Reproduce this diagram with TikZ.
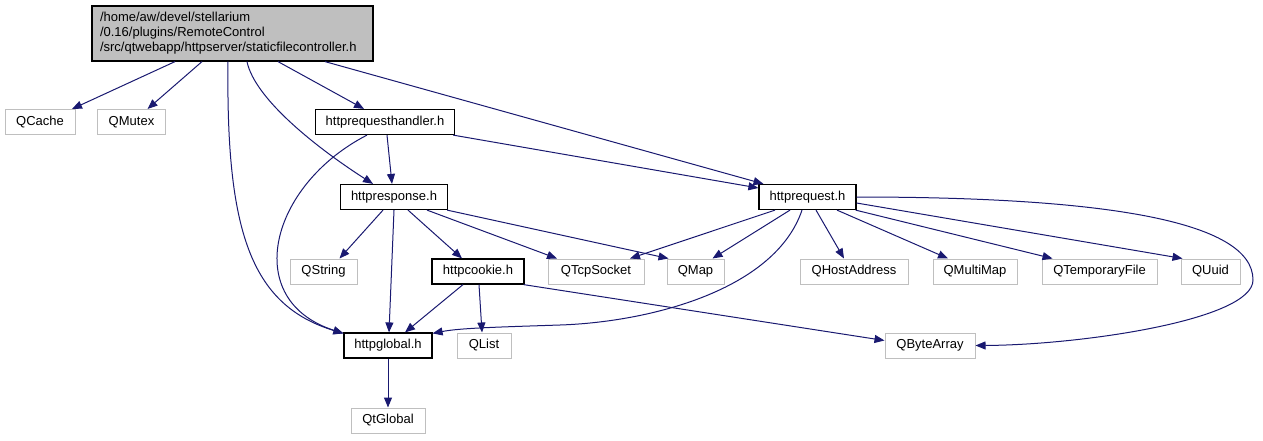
\documentclass[tikz,border=0pt]{standalone}
\usepackage{fontspec}
\setmainfont{Liberation Sans}
\usetikzlibrary{arrows.meta}
\definecolor{edgeblue}{HTML}{191970}
\definecolor{boxgray}{HTML}{BFBFBF}
\tikzset{>={Triangle[length=10pt,width=8pt]}}
\tikzset{
  filebox/.style={draw=black,line width=1.2pt,minimum height=25pt,
    inner sep=0pt,font=\fontsize{13}{15}\selectfont},
  extbox/.style={filebox,draw=boxgray,line width=1pt},
  dep/.style={->,edgeblue,line width=1pt},
}

\begin{document}
\begin{tikzpicture}[x=1pt,y=-1pt]
  \useasboundingbox (0,0) rectangle (1263,440);
  % the header itself
  \node[filebox,fill=boxgray,minimum width=281pt,minimum height=55pt,
        text width=265pt,align=left] (root) at (232.5,33.5)
    {/home/aw/devel/stellarium\\/0.16/plugins/RemoteControl\\/src/qtwebapp/httpserver/staticfilecontroller.h};
  % second row
  \node[extbox,minimum width=70pt]  (qcache)  at (40,122)    {QCache};
  \node[extbox,minimum width=68pt]  (qmutex)  at (131.5,122) {QMutex};
  \node[filebox,minimum width=139pt] (handler) at (385,122)  {httprequesthandler.h};
  % third row
  \node[filebox,minimum width=107pt] (response) at (394,197)  {httpresponse.h};
  \node[filebox,minimum width=97pt]  (request)  at (807.5,197) {httprequest.h};
  % fourth row
  \node[extbox,minimum width=67pt]   (qstring)   at (323.5,271.5) {QString};
  \node[filebox,minimum width=92pt]  (cookie)    at (478,271.5)   {httpcookie.h};
  \node[extbox,minimum width=96pt]   (qtcp)      at (596,271.5)   {QTcpSocket};
  \node[extbox,minimum width=57pt]   (qmap)      at (695.5,271.5) {QMap};
  \node[extbox,minimum width=108pt]  (qhost)     at (854,271.5)   {QHostAddress};
  \node[extbox,minimum width=84pt]   (qmultimap) at (975,271.5)   {QMultiMap};
  \node[extbox,minimum width=115pt]  (qtemp)     at (1099.5,271.5) {QTemporaryFile};
  \node[extbox,minimum width=59pt]   (quuid)     at (1210.5,271.5) {QUuid};
  % fifth row
  \node[filebox,minimum width=88pt]  (global)    at (388,345.5) {httpglobal.h};
  \node[extbox,minimum width=54pt]   (qlist)     at (484,345.5) {QList};
  \node[extbox,minimum width=90pt]   (qbytearray) at (930,345.5) {QByteArray};
  % last row
  \node[extbox,minimum width=74pt]   (qtglobal)  at (388,420.5) {QtGlobal};

  % from the header
  \draw[dep] ([xshift=-57.5]root.south) -- ([xshift=32]qcache.north);
  \draw[dep] ([xshift=-30.5]root.south) -- ([xshift=16]qmutex.north);
  \draw[dep] ([xshift=-4.5]root.south) .. controls (226,230) and (250,305)
    .. ([yshift=-1]global.north west);
  \draw[dep] ([xshift=14.5]root.south) .. controls (255,100) and (320,150)
    .. ([xshift=-21]response.north);
  \draw[dep] ([xshift=45.5]root.south) -- ([xshift=-21]handler.north);
  \draw[dep] ([xshift=92.5]root.south) -- ([xshift=-44]request.north);

  % httprequesthandler.h
  \draw[dep] ([xshift=2]handler.south) -- ([xshift=-2]response.north);
  \draw[dep] ([xshift=-2]handler.south east) -- ([yshift=9]request.west);
  \draw[dep] ([xshift=-18]handler.south) .. controls (270,185) and (240,300)
    .. ([yshift=-1]global.north west);

  % httpresponse.h
  \draw[dep] ([xshift=-11]response.south) -- ([xshift=16]qstring.north);
  \draw[dep] (response.south) -- ([xshift=1]global.north);
  \draw[dep] ([xshift=14]response.south) -- ([xshift=-16]cookie.north);
  \draw[dep] ([xshift=33]response.south) -- ([xshift=-39]qtcp.north);
  \draw[dep] ([xshift=-1]response.south east) -- ([xshift=2]qmap.north west);

  % httprequest.h
  \draw[dep] ([xshift=-32.5]request.south) -- ([xshift=34]qtcp.north);
  \draw[dep] ([xshift=-17.5]request.south) -- ([xshift=17]qmap.north);
  \draw[dep] ([xshift=-5.5]request.south) .. controls (775,290) and (650,322)
    .. (560,325) .. controls (500,327) and (460,328) .. ([yshift=-1]global.north east);
  \draw[dep] ([xshift=8.5]request.south) -- ([xshift=-10]qhost.north);
  \draw[dep] ([xshift=29.5]request.south) -- ([xshift=-27]qmultimap.north);
  \draw[dep] ([xshift=-1]request.south east) -- ([xshift=-47]qtemp.north);
  \draw[dep] ([yshift=-6]request.east) -- ([xshift=2]quuid.north west);
  \draw[dep] (request.east) .. controls (1100,197) and (1253,220) .. (1253,280)
    .. controls (1253,320) and (1080,345) .. (qbytearray.east);

  % httpcookie.h
  \draw[dep] ([xshift=-15]cookie.south) -- ([xshift=17]global.north);
  \draw[dep] ([xshift=1]cookie.south) -- ([xshift=-2]qlist.north);
  \draw[dep] ([xshift=-1]cookie.south east) -- ([yshift=5]qbytearray.west);

  % httpglobal.h
  \draw[dep] (global) -- (qtglobal);
\end{tikzpicture}
\end{document}
